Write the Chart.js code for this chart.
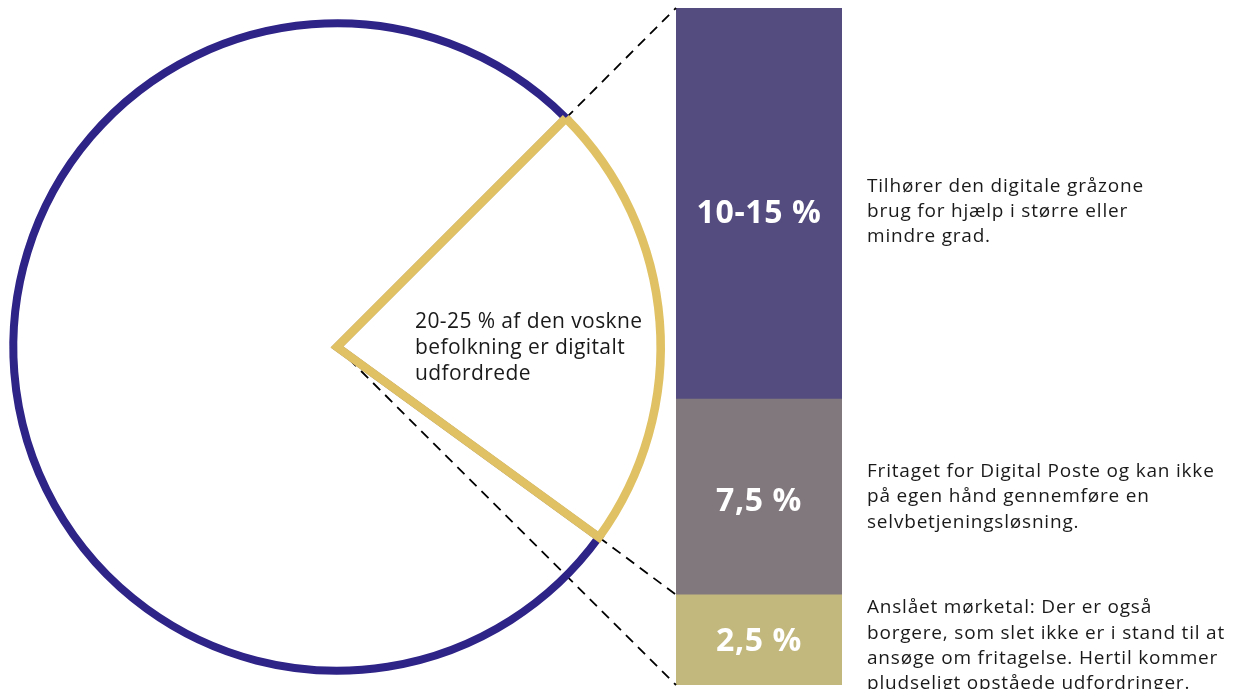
<!DOCTYPE html>
<html lang="da">
<head>
<meta charset="utf-8">
<title>Digitalt udfordrede</title>
<script src="https://cdn.jsdelivr.net/npm/chart.js@4.4.1/dist/chart.umd.min.js"></script>
<style>
  html, body { margin: 0; padding: 0; background: #fff; }
  #wrap { position: relative; width: 1234px; height: 689px; overflow: hidden; }
  #wrap canvas { position: absolute; left: 0; top: 0; }
</style>
</head>
<body>
<div id="wrap">
  <canvas id="barChart" width="1234" height="689"></canvas>
  <canvas id="pieChart" width="1234" height="689"></canvas>
</div>
<script>
// data
const pieLabels = ['Øvrige voksne', 'Digitalt udfordrede'];
const pieValues = [77.5, 22.5];
const pieText = ['20-25 % af den voskne', 'befolkning er digitalt', 'udfordrede'];

const barCategories = ['Digitalt udfordrede'];
// bottom to top
const barLabels = ['2,5 %', '7,5 %', '10-15 %'];
const barValues = [3, 6.5, 13];
const barNotes = [
  ['Anslået mørketal: Der er også', 'borgere, som slet ikke er i stand til at', 'ansøge om fritagelse. Hertil kommer', 'pludseligt opståede udfordringer.'],
  ['Fritaget for Digital Poste og kan ikke', 'på egen hånd gennemføre en', 'selvbetjeningsløsning.'],
  ['Tilhører den digitale gråzone', 'brug for hjælp i større eller', 'mindre grad.']
];

// styles
const barColors = ['#c2b87e', '#81787d', '#544c7e'];
const ringColor = '#2e2387';
const wedgeColor = '#e0c264';
const labelShift = [2, 5, 10];
const noteShift = [6, 0, 8];
const noteLine = 25.3;
const textFont = '"Open Sans", "Noto Sans", sans-serif';

// tekst i og ved søjlen
const barText = {
  id: 'barText',
  afterDatasetsDraw(chart) {
    const c = chart.ctx;
    const area = chart.chartArea;
    c.save();
    chart.data.datasets.forEach((ds, i) => {
      const bar = chart.getDatasetMeta(i).data[0];
      const mid = (bar.y + bar.base) / 2;
      c.fillStyle = '#ffffff';
      c.font = 'bold 32px ' + textFont;
      c.letterSpacing = '0.6px';
      c.textAlign = 'center';
      c.textBaseline = 'middle';
      c.fillText(barLabels[i], bar.x, mid + labelShift[i]);

      const lines = barNotes[i];
      c.fillStyle = '#1a1a1a';
      c.font = '19px ' + textFont;
      c.letterSpacing = '0.8px';
      c.textAlign = 'left';
      const top = mid + noteShift[i] - (lines.length - 1) * noteLine / 2;
      lines.forEach((t, k) => c.fillText(t, area.right + 25, top + k * noteLine));
    });
    c.restore();
  }
};

const barChart = new Chart(document.getElementById('barChart'), {
  type: 'bar',
  data: {
    labels: barCategories,
    datasets: barValues.map((v, i) => ({
      label: barLabels[i],
      data: [v],
      backgroundColor: barColors[i],
      borderWidth: 0,
      barPercentage: 1,
      categoryPercentage: 1
    }))
  },
  options: {
    responsive: false,
    animation: false,
    events: [],
    layout: { padding: { left: 676, right: 392, top: 8, bottom: 4 } },
    scales: {
      x: { stacked: true, display: false },
      y: { stacked: true, display: false, min: 0, max: barValues.reduce((a, b) => a + b, 0) }
    },
    plugins: { legend: { display: false }, tooltip: { enabled: false } }
  },
  plugins: [barText]
});

// stiplede linjer fra udsnittet til søjlen + tekst i udsnittet
const pieLinks = {
  id: 'pieLinks',
  beforeDatasetsDraw(chart) {
    const wedge = chart.getDatasetMeta(0).data[1];
    const cx = wedge.x, cy = wedge.y, r = wedge.outerRadius;
    const up = [cx + r * Math.cos(wedge.startAngle), cy + r * Math.sin(wedge.startAngle)];
    const low = [cx + r * Math.cos(wedge.endAngle), cy + r * Math.sin(wedge.endAngle)];
    const bottom = barChart.getDatasetMeta(0).data[0];
    const top = barChart.getDatasetMeta(2).data[0];
    const left = top.x - top.width / 2;
    const segs = [
      [up, [left, top.y]],
      [low, [left, bottom.y]],
      [[cx, cy], [left, bottom.base]]
    ];
    const c = chart.ctx;
    c.save();
    c.strokeStyle = '#000';
    c.lineWidth = 1.8;
    c.setLineDash([10, 7]);
    segs.forEach(s => {
      c.beginPath();
      c.moveTo(s[0][0], s[0][1]);
      c.lineTo(s[1][0], s[1][1]);
      c.stroke();
    });
    c.restore();
  },
  afterDatasetsDraw(chart) {
    const wedge = chart.getDatasetMeta(0).data[1];
    const c = chart.ctx;
    c.save();
    c.fillStyle = '#1a1a1a';
    c.font = '21px ' + textFont;
    c.letterSpacing = '0.4px';
    c.textAlign = 'left';
    c.textBaseline = 'middle';
    pieText.forEach((t, k) => c.fillText(t, wedge.x + 78, wedge.y - 25 + k * 26));
    c.restore();
  }
};

new Chart(document.getElementById('pieChart'), {
  type: 'pie',
  data: {
    labels: pieLabels,
    datasets: [{
      data: pieValues,
      backgroundColor: 'rgba(0,0,0,0)',
      borderColor: [ringColor, wedgeColor],
      borderWidth: [8, 8.6],
      borderJoinStyle: 'miter',
      hoverOffset: 0
    }]
  },
  options: {
    responsive: false,
    animation: false,
    events: [],
    rotation: 126,
    layout: { padding: { left: 9, right: 569, top: 19, bottom: 14 } },
    plugins: { legend: { display: false }, tooltip: { enabled: false } }
  },
  plugins: [pieLinks]
});
</script>
</body>
</html>
